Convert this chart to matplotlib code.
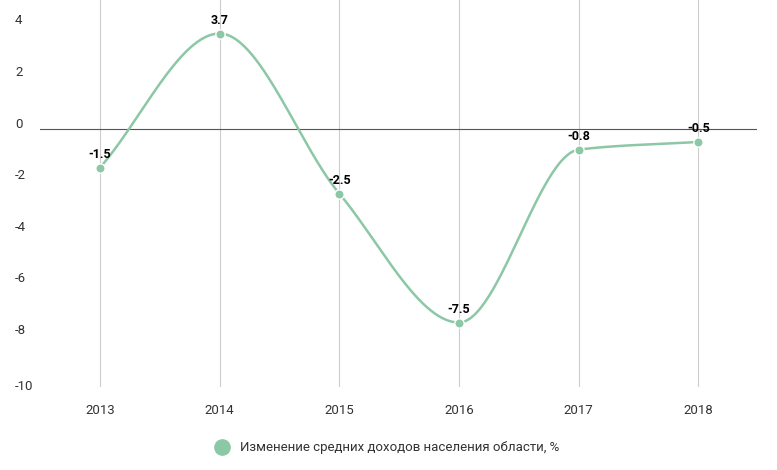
import numpy as np
import matplotlib
matplotlib.use("Agg")
import matplotlib.pyplot as plt
from matplotlib.transforms import offset_copy, blended_transform_factory

years = [2013, 2014, 2015, 2016, 2017, 2018]
values = [-1.5, 3.7, -2.5, -7.5, -0.8, -0.5]
yticks = [4, 2, 0, -2, -4, -6, -8, -10]
series_name = "Изменение средних доходов населения области, %"
color = "#8cc7a6"

plt.rcParams['font.family'] = ['Roboto', 'DejaVu Sans']
fig = plt.figure(figsize=(7.77, 4.70), dpi=100)
ax = fig.add_axes([40/777, 1-387/470, 717/777, 387/470])
ax.set_xlim(2012.5, 2018.49)
ax.set_ylim(-10, 5.0)

# monotone cubic (PCHIP-like) smoothing
x = np.array(years, float); y = np.array(values, float)
n = len(x)
d = np.diff(y) / np.diff(x)
m = np.zeros(n)
for i in range(1, n-1):
    if d[i-1]*d[i] <= 0:
        m[i] = 0
    else:
        m[i] = 2/(1/d[i-1] + 1/d[i])
m[0] = d[0]; m[-1] = d[-1]
xs, ys = [], []
for i in range(n-1):
    h = x[i+1]-x[i]
    t = np.linspace(0, 1, 60)
    h00 = 2*t**3-3*t**2+1; h10 = t**3-2*t**2+t; h01 = -2*t**3+3*t**2; h11 = t**3-t**2
    xs.extend(x[i]+t*h); ys.extend(h00*y[i]+h10*h*m[i]+h01*y[i+1]+h11*h*m[i+1])
ax.plot(xs, ys, color=color, lw=1.8, zorder=3)
ax.scatter(years, values, s=45, color=color, edgecolor='white', lw=1, zorder=4)
for xx, yy in zip(years, values):
    ax.annotate(f"{yy:g}", (xx, yy), xytext=(0, 5), textcoords='offset points',
                ha='center', va='bottom', fontsize=9, fontweight='bold', color='black', zorder=5)

for yr in years:
    ax.axvline(yr, color='#cccccc', lw=0.8, zorder=1)
ax.axhline(0, color='#555555', lw=0.8, zorder=2)

for s in ax.spines.values(): s.set_visible(False)
ax.set_yticks([]); ax.set_xticks(years)
ax.set_xticklabels([str(v) for v in years], fontsize=9.5, color='#333333')
ax.tick_params(axis='x', length=0, pad=12)
tr = blended_transform_factory(fig.transFigure, ax.transData)
for t in yticks:
    ax.text(15/777, t, str(t), transform=offset_copy(tr, fig=fig, y=5 if t != -10 else 0, units='dots'),
            ha='left', va='center', fontsize=9.5, color='#333333')

fig.lines.append(matplotlib.lines.Line2D([222/777], [1-447/470], marker='o', markersize=11,
                 color=color, transform=fig.transFigure))
fig.text(240/777, 1-447/470, series_name, ha='left', va='center', fontsize=9.5, color='#333333')
fig.savefig("out.png", dpi=100)
